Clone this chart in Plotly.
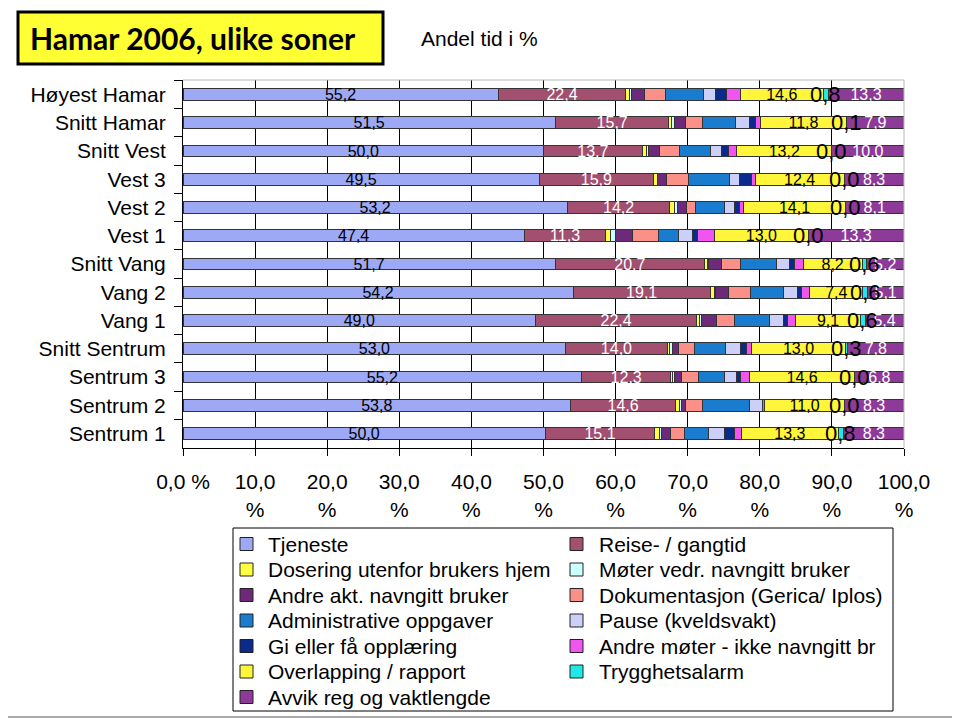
import plotly.graph_objects as go

categories = ["Høyest Hamar", "Snitt Hamar", "Snitt Vest", "Vest 3", "Vest 2", "Vest 1",
              "Snitt Vang", "Vang 2", "Vang 1", "Snitt Sentrum", "Sentrum 3", "Sentrum 2", "Sentrum 1"]

tjeneste = [55.2, 51.5, 50.0, 49.5, 53.2, 47.4, 51.7, 54.2, 49.0, 53.0, 55.2, 53.8, 50.0]
reise = [22.4, 15.7, 13.7, 15.9, 14.2, 11.3, 20.7, 19.1, 22.4, 14.0, 12.3, 14.6, 15.1]
dosering = [0.7, 0.4, 0.6, 0.5, 0.7, 0.6, 0.4, 0.6, 0.4, 0.4, 0.2, 0.5, 0.6]
moter = [0.3, 0.4, 0.3, 0.1, 0.4, 0.7, 0.1, 0.1, 0.3, 0.3, 0.4, 0.3, 0.4]
andre_akt = [2.2, 1.5, 1.5, 1.2, 1.2, 2.4, 1.8, 1.8, 2.0, 0.9, 0.9, 0.6, 1.2]
dokumentasjon = [3.8, 2.4, 2.8, 3.0, 1.2, 3.6, 2.7, 3.0, 2.5, 2.2, 2.4, 2.3, 1.9]
administrative = [6.5, 4.5, 4.2, 5.7, 4.0, 2.8, 5.0, 4.7, 4.9, 4.3, 3.6, 6.5, 3.3]
pause = [2.2, 1.9, 1.6, 1.5, 1.5, 2.0, 1.8, 1.9, 1.9, 2.1, 1.6, 1.8, 2.2]
opplaering = [1.9, 0.8, 0.9, 1.6, 0.6, 0.6, 0.7, 0.5, 0.6, 0.8, 0.6, 0.1, 1.4]
andre_moter = [2.4, 0.8, 1.2, 0.5, 0.6, 2.4, 1.2, 1.2, 1.1, 0.7, 1.2, 0.3, 1.0]
overlapping = [14.6, 11.8, 13.2, 12.4, 14.1, 13.0, 8.2, 7.4, 9.1, 13.0, 14.6, 11.0, 13.3]
trygghetsalarm = [0.8, 0.1, 0.0, 0.0, 0.0, 0.0, 0.6, 0.6, 0.6, 0.3, 0.0, 0.0, 0.8]
avvik = [13.3, 7.9, 10.0, 8.3, 8.1, 13.3, 5.2, 5.1, 5.4, 7.8, 6.8, 8.3, 8.3]

x_tick_values = [0, 10, 20, 30, 40, 50, 60, 70, 80, 90, 100]
x_tick_labels = ["0,0 %", "10,0<br>%", "20,0<br>%", "30,0<br>%", "40,0<br>%", "50,0<br>%",
                 "60,0<br>%", "70,0<br>%", "80,0<br>%", "90,0<br>%", "100,0<br>%"]

# (name, values, color, label font color or None)
series = [
    ("Tjeneste", tjeneste, "#9DA9F4", "black"),
    ("Reise- / gangtid", reise, "#A34F70", "white"),
    ("Dosering utenfor brukers hjem", dosering, "#FFFF40", None),
    ("Møter vedr. navngitt bruker", moter, "#CCFFFF", None),
    ("Andre akt. navngitt bruker", andre_akt, "#6E2A7A", None),
    ("Dokumentasjon (Gerica/ Iplos)", dokumentasjon, "#FA9088", None),
    ("Administrative oppgaver", administrative, "#1A7CCF", None),
    ("Pause (kveldsvakt)", pause, "#CCD0F8", None),
    ("Gi eller få opplæring", opplaering, "#0B2B8C", None),
    ("Andre møter - ikke navngitt br", andre_moter, "#F055F0", None),
    ("Overlapping / rapport", overlapping, "#FFF53A", "black"),
    ("Trygghetsalarm", trygghetsalarm, "#20E8E8", None),
    ("Avvik reg og vaktlengde", avvik, "#8E3A98", "white"),
]

def fmt(v):
    return f"{v:.1f}".replace(".", ",")

FONT = "Liberation Sans, Arial, sans-serif"

# page is offset by the browser's 8px body margin; plot area in screen px
PX0, PX1, PY0, PY1 = 183, 904, 80, 448
OFF = 8

def px(X):
    return (X - PX0) / (PX1 - PX0)

def py(Y):
    return 1 - (Y - PY0) / (PY1 - PY0)

fig = go.Figure()
for name, vals, color, lab in series:
    if lab:
        kw = dict(text=[fmt(v) for v in vals], textposition="inside",
                  insidetextanchor="middle", constraintext="none",
                  insidetextfont=dict(color=lab, size=16, family=FONT))
    else:
        kw = dict(textposition="none")
    fig.add_trace(go.Bar(
        y=categories, x=vals, name=name, orientation="h",
        marker=dict(color=color, line=dict(color="#333333", width=1)),
        hoverinfo="x+y+name", showlegend=False, **kw))

annotations = []
# Trygghetsalarm labels (also shown for zero-width segments)
for i, cat in enumerate(categories):
    vals = [s[1][i] for s in series]
    total = sum(vals)
    before = sum(vals[:11])
    center = (before + trygghetsalarm[i] / 2) / total * 100
    annotations.append(dict(x=center, y=cat, xref="x", yref="y", text=fmt(trygghetsalarm[i]),
                            showarrow=False, font=dict(size=22, color="black", family=FONT)))

annotations.append(dict(x=px(193), y=py(38), xref="paper", yref="paper", text="<b>Hamar 2006, ulike soner</b>",
                        showarrow=False, font=dict(size=30, color="black", family="Lato, Noto Sans, sans-serif"),
                        xanchor="center", yanchor="middle"))
annotations.append(dict(x=px(479), y=py(38), xref="paper", yref="paper", text="Andel tid i %",
                        showarrow=False, font=dict(size=21, color="black", family=FONT),
                        xanchor="center", yanchor="middle"))

shapes = [
    # title box
    dict(type="rect", xref="paper", yref="paper", x0=px(18), x1=px(383), y0=py(64), y1=py(12),
         fillcolor="#FFFF33", line=dict(color="black", width=3), layer="below"),
    # plot area top/right border
    dict(type="line", xref="paper", yref="paper", x0=0, x1=1, y0=1, y1=1,
         line=dict(color="#B8B8B8", width=1), layer="above"),
    dict(type="line", xref="paper", yref="paper", x0=1, x1=1, y0=0, y1=1,
         line=dict(color="#B8B8B8", width=1), layer="above"),
    # outer border right / bottom
    dict(type="line", xref="paper", yref="paper", x0=px(959), x1=px(959), y0=py(717), y1=py(8),
         line=dict(color="#555555", width=1), layer="below"),
    dict(type="line", xref="paper", yref="paper", x0=px(8), x1=px(959), y0=py(717), y1=py(717),
         line=dict(color="#555555", width=1), layer="below"),
    # legend box
    dict(type="rect", xref="paper", yref="paper", x0=px(233), x1=px(893), y0=py(711), y1=py(528),
         fillcolor="white", line=dict(color="black", width=1), layer="below"),
]

# legend (two columns, row-major like the original)
sym_x = [240, 570]
txt_x = [266, 597]
for k, (name, _, color, _) in enumerate(series):
    row, col = divmod(k, 2)
    yc = 544 + row * 25.5
    shapes.append(dict(type="rect", xref="paper", yref="paper",
                       x0=px(sym_x[col]), x1=px(sym_x[col] + 13), y0=py(yc + 6.5), y1=py(yc - 6.5),
                       fillcolor=color, line=dict(color="#222222", width=1), layer="above"))
    annotations.append(dict(x=px(txt_x[col]), y=py(yc), xref="paper", yref="paper", text=name,
                            showarrow=False, xanchor="left", yanchor="middle",
                            font=dict(size=21, color="black", family=FONT)))

fig.update_layout(
    width=960 - OFF, height=718 - OFF,
    barmode="stack", barnorm="percent", bargap=0.58,
    paper_bgcolor="white", plot_bgcolor="white",
    margin=dict(l=PX0 - OFF, r=(960 - OFF) - (PX1 - OFF), t=PY0 - OFF, b=(718 - OFF) - (PY1 - OFF),
                autoexpand=False),
    font=dict(family=FONT, size=21, color="black"),
    showlegend=False,
    annotations=annotations,
    shapes=shapes,
    xaxis=dict(range=[0, 100], tickvals=x_tick_values, ticktext=x_tick_labels,
               showgrid=True, gridcolor="black", gridwidth=1,
               showline=True, linecolor="black", linewidth=1,
               ticks="outside", ticklen=7, tickcolor="black", ticklabelstandoff=8,
               tickfont=dict(size=21, family=FONT), zeroline=False, fixedrange=True),
    yaxis=dict(type="category", autorange="reversed", tickson="boundaries",
               showline=True, linecolor="black", linewidth=1,
               ticks="outside", ticklen=8, tickcolor="black", showgrid=False,
               ticklabelstandoff=12,
               tickfont=dict(size=21, family=FONT), fixedrange=True),
)

fig.write_html("out.html")
